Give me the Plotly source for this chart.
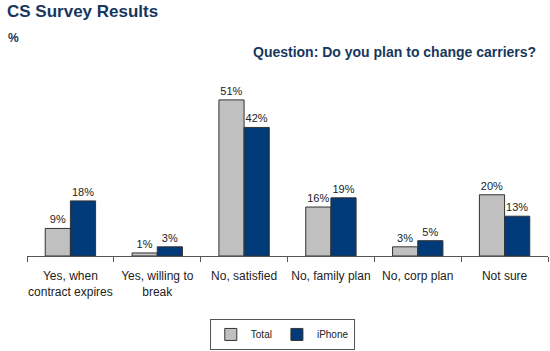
import plotly.graph_objects as go

categories = ["Yes, when<br>contract expires", "Yes, willing to<br>break", "No, satisfied",
              "No, family plan", "No, corp plan", "Not sure"]
total = [9, 1, 51, 16, 3, 20]
iphone = [18, 3, 42, 19, 5, 13]
series_names = ["Total", "iPhone"]

FONT = "Liberation Sans, Arial, sans-serif"
NAVY = "#17375e"

fig = go.Figure()
fig.add_trace(go.Bar(x=categories, y=total, name=series_names[0],
                     marker=dict(color="#c0c0c0", line=dict(color="#333333", width=1)),
                     text=[f"{v}%" for v in total], textposition="outside",
                     textfont=dict(size=11, color="#222222", family=FONT), cliponaxis=False))
fig.add_trace(go.Bar(x=categories, y=iphone, name=series_names[1],
                     marker=dict(color="#003a78", line=dict(color="#333333", width=1)),
                     text=[f"{v}%" for v in iphone], textposition="outside",
                     textfont=dict(size=11, color="#222222", family=FONT), cliponaxis=False))

fig.update_layout(
    width=550, height=351,
    margin=dict(l=27, r=2, t=80, b=94),
    paper_bgcolor="white", plot_bgcolor="white",
    barmode="group", bargap=0.42, bargroupgap=0,
    font=dict(family=FONT, size=11, color="#222222"),
    showlegend=True,
    legend=dict(orientation="h", x=0.49, xanchor="center", y=-0.35, yanchor="top",
                bordercolor="#555555", borderwidth=1, font=dict(size=10, family=FONT),
                traceorder="normal", itemwidth=30),
    xaxis=dict(showline=True, linecolor="#555555", linewidth=1, ticks="outside",
               tickson="boundaries", ticklen=5, tickcolor="#555555", tickangle=0,
               ticklabelstandoff=9,
               tickfont=dict(size=12, family=FONT, color="#222222"), showgrid=False),
    yaxis=dict(range=[0, 57.5], visible=False, showgrid=False),
    annotations=[
        dict(text="<b>CS Survey Results</b>", xref="paper", yref="paper", x=0, y=1,
             xanchor="left", yanchor="top", showarrow=False, xshift=-22, yshift=80,
             font=dict(size=17, color=NAVY, family=FONT)),
        dict(text="<b>%</b>", xref="paper", yref="paper", x=0, y=1,
             xanchor="left", yanchor="top", showarrow=False, xshift=-21, yshift=51,
             font=dict(size=12, color=NAVY, family=FONT)),
        dict(text="<b>Question: Do you plan to change carriers?</b>", xref="paper", yref="paper",
             x=1, y=1, xanchor="right", yanchor="top", showarrow=False, xshift=-10, yshift=38,
             font=dict(size=14, color=NAVY, family=FONT)),
    ],
)

fig.write_html("out.html")
